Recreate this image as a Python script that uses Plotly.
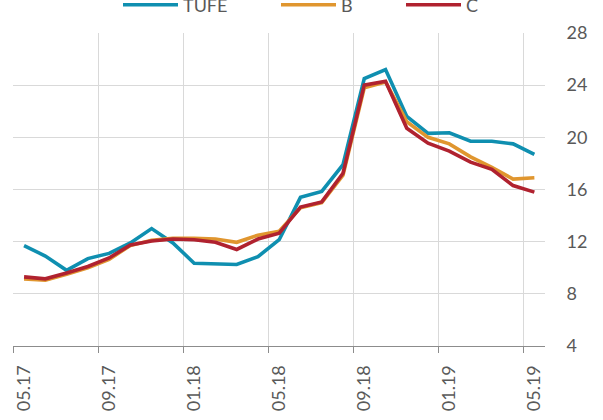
import plotly.graph_objects as go

months = ["05.17", "06.17", "07.17", "08.17", "09.17", "10.17", "11.17", "12.17",
          "01.18", "02.18", "03.18", "04.18", "05.18", "06.18", "07.18", "08.18",
          "09.18", "10.18", "11.18", "12.18", "01.19", "02.19", "03.19", "04.19", "05.19"]
tufe = [11.7, 10.9, 9.8, 10.7, 11.1, 11.9, 13.0, 11.9, 10.35, 10.3, 10.25, 10.85,
        12.15, 15.4, 15.85, 17.9, 24.5, 25.2, 21.6, 20.3, 20.35, 19.7, 19.7, 19.5, 18.7]
b_vals = [9.15, 9.05, 9.5, 10.0, 10.65, 11.7, 12.1, 12.25, 12.25, 12.2, 11.95, 12.5,
          12.8, 14.6, 15.0, 17.1, 23.8, 24.25, 21.2, 20.0, 19.5, 18.5, 17.7, 16.8, 16.9]
c_vals = [9.3, 9.15, 9.6, 10.1, 10.75, 11.75, 12.05, 12.2, 12.15, 11.95, 11.4, 12.2,
          12.65, 14.65, 15.05, 17.25, 24.0, 24.3, 20.7, 19.55, 18.95, 18.1, 17.55, 16.3, 15.8]
y_ticks = [4, 8, 12, 16, 20, 24, 28]

series = [("TUFE", tufe, "#0f8fb0"), ("B", b_vals, "#e0962f"), ("C", c_vals, "#b0222f")]
legend_ids = ["legend", "legend2", "legend3"]
legend_left_px = [118, 276, 401]

xs = [i + 0.5 for i in range(len(months))]
tick_idx = list(range(0, len(months), 4))
xrange = [-0.02, len(months)]

W, H = 603, 420
font = dict(family="Lato", size=18, color="#595959")

fig = go.Figure()
for (name, vals, color), lid in zip(series, legend_ids):
    fig.add_trace(go.Scatter(x=xs, y=vals, name=name, mode="lines", legend=lid,
                             line=dict(color=color, width=3.6)))

legend_cfg = {}
for lid, px in zip(legend_ids, legend_left_px):
    legend_cfg[lid] = dict(orientation="h", xref="container", yref="container",
                           x=px / W, xanchor="left", y=1 - 5 / H, yanchor="middle",
                           itemwidth=55, font=font, bgcolor="rgba(0,0,0,0)",
                           borderwidth=0)

fig.update_layout(
    width=W, height=H,
    margin=dict(l=13, r=58, t=33, b=74, autoexpand=False),
    paper_bgcolor="white", plot_bgcolor="white",
    font=font,
    showlegend=True,
    xaxis=dict(range=xrange, tickmode="array", tickvals=tick_idx,
               showticklabels=False,
               showgrid=True, gridcolor="#d9d9d9", gridwidth=1,
               showline=True, linecolor="#8c8c8c", linewidth=1,
               ticks="outside", ticklen=6, tickcolor="#8c8c8c",
               zeroline=False, fixedrange=True, automargin=False),
    xaxis2=dict(range=xrange, overlaying="x", anchor="y", side="bottom",
                tickmode="array", tickvals=[xs[i] for i in tick_idx],
                ticktext=[months[i] for i in tick_idx], tickangle=-90,
                showgrid=False, showline=False, zeroline=False,
                ticks="outside", ticklen=6, tickcolor="rgba(0,0,0,0)",
                ticklabelstandoff=5, fixedrange=True, automargin=False),
    yaxis=dict(range=[4, 28], tickvals=y_ticks, side="right",
               showgrid=True, gridcolor="#d9d9d9", gridwidth=1,
               showline=False, zeroline=False,
               ticks="outside", ticklen=17, tickcolor="rgba(0,0,0,0)",
               fixedrange=True, automargin=False),
    **legend_cfg,
)
# invisible helper so the month-label axis is drawn
fig.add_trace(go.Scatter(x=[xs[0]], y=[tufe[0]], xaxis="x2", mode="markers",
                         marker=dict(opacity=0), showlegend=False, hoverinfo="skip"))

fig.write_html("out.html", config={"displayModeBar": False},
               post_script="document.body.style.margin='0';document.body.style.overflow='hidden';")
